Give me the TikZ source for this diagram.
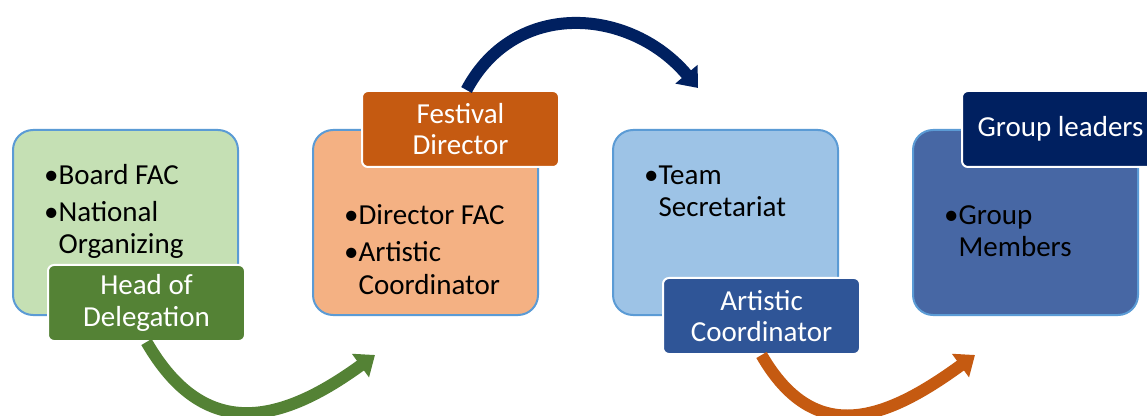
\documentclass[tikz,border=0pt]{standalone}
\usepackage{fontspec}
\setmainfont{Carlito}
\usetikzlibrary{arrows.meta,positioning}
\definecolor{edge}{HTML}{5B9BD5}
\definecolor{leafLight}{HTML}{C5E0B4}
\definecolor{leaf}{HTML}{548235}
\definecolor{peachLight}{HTML}{F4B183}
\definecolor{rust}{HTML}{C55A11}
\definecolor{skyLight}{HTML}{9DC3E6}
\definecolor{cobalt}{HTML}{2F5597}
\definecolor{steel}{HTML}{4767A4}
\definecolor{navy}{HTML}{002060}
\newcommand{\bul}{\textbullet}
\newcommand{\nobul}{\hphantom{\textbullet}}
\tikzset{
  stage/.style={rounded corners=20pt,draw=edge,line width=2pt,fill=#1,
                minimum width=225pt,minimum height=185pt,inner sep=0pt},
  tag/.style={rounded corners=6pt,draw=white,line width=2pt,fill=#1,text=white,
              minimum width=197pt,minimum height=76pt,inner sep=0pt,align=center,
              font=\fontsize{29}{31.5}\selectfont},
  points/.style={inner sep=0pt,align=left,font=\fontsize{29}{32}\selectfont},
  swing/.style={-{Triangle[length=18pt,width=28pt]},line width=12pt,draw=#1}
}

\begin{document}
\begin{tikzpicture}[x=1pt,y=1pt,node distance=73pt]
    \useasboundingbox (0,0) rectangle (1147,415);
    \clip (0,0) rectangle (1147,415);
    % the four stages
    \node[stage=leafLight,anchor=north west] (s1) at (12,286) {};
    \node[stage=peachLight,right=of s1] (s2) {};
    \node[stage=skyLight,right=of s2] (s3) {};
    \node[stage=steel,right=of s3] (s4) {};
    % bullet lists (anchored on their last baseline)
    \node[points,below right=125pt and 32pt of s1.north west,anchor=base west] (l1)
      {\bul Board FAC\\[5pt]\bul National\\\nobul Organizing};
    \node[points,below right=165pt and 32pt of s2.north west,anchor=base west] (l2)
      {\bul Director FAC\\[5pt]\bul Artistic\\\nobul Coordinator};
    \node[points,below right=88pt and 32pt of s3.north west,anchor=base west] (l3)
      {\bul Team\\\nobul Secretariat};
    \node[points,below right=128pt and 32pt of s4.north west,anchor=base west] (l4)
      {\bul Group\\\nobul Members};
    % role tags on the stage corners
    \node[tag=leaf,below right=-52pt and 35pt of s1.south west] (head) {Head of\\Delegation};
    \node[tag=rust,above right=-39pt and 49pt of s2.north west] (fest) {Festival\\Director};
    \node[tag=cobalt,below right=-39pt and 50pt of s3.south west] (artc) {Artistic\\Coordinator};
    \node[tag=navy,above right=-39pt and 49pt of s4.north west] (lead) {Group leaders};
    % curved arrows between the stages
    \coordinate (g1) at (375,60);
    \coordinate (g2) at (698,327);
    \coordinate (g3) at (975,60);
    \draw[swing=leaf] (head.south) to[out=-60,in=216,looseness=1.3] (g1);
    \draw[swing=navy] ([xshift=6pt]fest.north) to[out=62,in=130,looseness=1.15] (g2);
    \draw[swing=rust] (artc.south) to[out=-60,in=216,looseness=1.3] (g3);
  \end{tikzpicture}
\end{document}
